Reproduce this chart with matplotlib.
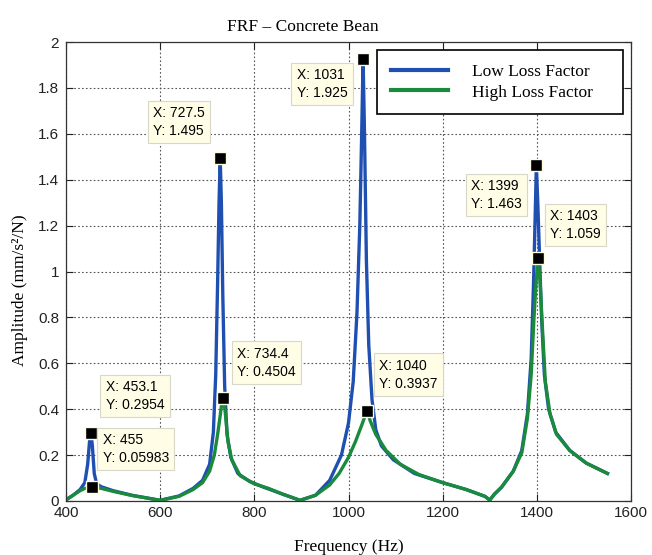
import numpy as np
import matplotlib
matplotlib.use("Agg")
import matplotlib.pyplot as plt
from matplotlib.ticker import FuncFormatter

# 低损耗因子曲线
low_freq = [400, 415, 430, 440, 446, 450, 453.1, 456, 460, 465, 475, 500, 540, 600,
            640, 670, 690, 705, 713, 718, 722, 725, 727.5, 730, 733, 737, 742, 750,
            765, 790, 820, 860, 897, 930, 960, 985, 1000, 1010, 1018, 1024, 1028,
            1031, 1034, 1038, 1043, 1050, 1058, 1070, 1095, 1140, 1200, 1250, 1290,
            1300, 1310, 1325, 1350, 1368, 1380, 1388, 1393, 1396, 1399, 1402, 1406,
            1410, 1416, 1425, 1440, 1470, 1505, 1550]
low_amp = [0.005, 0.025, 0.05, 0.08, 0.16, 0.26, 0.2954, 0.24, 0.12, 0.075, 0.062, 0.045,
           0.025, 0.003, 0.022, 0.055, 0.09, 0.16, 0.3, 0.55, 0.95, 1.3, 1.495, 1.3, 0.9,
           0.5, 0.29, 0.19, 0.12, 0.085, 0.06, 0.03, 0.003, 0.025, 0.09, 0.2, 0.34, 0.52,
           0.82, 1.2, 1.6, 1.925, 1.6, 1.05, 0.68, 0.44, 0.31, 0.24, 0.18, 0.12, 0.08, 0.05,
           0.02, 0.004, 0.03, 0.06, 0.13, 0.22, 0.38, 0.62, 0.95, 1.2, 1.463, 1.3, 1.05,
           0.8, 0.55, 0.4, 0.3, 0.22, 0.165, 0.12]

# 高损耗因子曲线
high_freq = [400, 415, 430, 440, 448, 455, 462, 475, 500, 540, 600, 640, 670, 690, 705,
             715, 722, 728, 731, 734.4, 738, 744, 752, 770, 800, 830, 860, 897, 930, 960,
             980, 1000, 1015, 1028, 1035, 1040, 1046, 1058, 1080, 1110, 1150, 1200, 1250,
             1290, 1300, 1310, 1325, 1350, 1368, 1380, 1388, 1394, 1399, 1403, 1407, 1412,
             1418, 1428, 1442, 1470, 1505, 1550]
high_amp = [0.005, 0.025, 0.045, 0.055, 0.058, 0.05983, 0.058, 0.055, 0.042, 0.024, 0.003,
            0.02, 0.05, 0.08, 0.13, 0.2, 0.29, 0.38, 0.43, 0.4504, 0.39, 0.26, 0.18, 0.11,
            0.075, 0.055, 0.03, 0.003, 0.025, 0.07, 0.12, 0.19, 0.26, 0.33, 0.37, 0.3937,
            0.35, 0.29, 0.22, 0.16, 0.115, 0.08, 0.05, 0.02, 0.004, 0.03, 0.06, 0.13, 0.21,
            0.36, 0.55, 0.8, 0.97, 1.059, 0.95, 0.75, 0.52, 0.38, 0.29, 0.22, 0.165, 0.12]

# 数据提示 (x, y, 文本框偏移像素)
tip_x = [453.1, 455, 727.5, 734.4, 1031, 1040, 1399, 1403]
tip_y = [0.2954, 0.05983, 1.495, 0.4504, 1.925, 0.3937, 1.463, 1.059]
tip_dx = [44, 44, -41, 43, -41, 41, -40, 37]
tip_dy = [37, 38, 36, 35, -25, 36, -30, 33]

x_ticks = [400, 600, 800, 1000, 1200, 1400, 1600]
y_ticks = [0, 0.2, 0.4, 0.6, 0.8, 1.0, 1.2, 1.4, 1.6, 1.8, 2.0]

SERIF = "Liberation Serif"
SANS = "Liberation Sans"

fig = plt.figure(figsize=(6.52, 5.55), dpi=100)
ax = fig.add_axes([66 / 652, 54 / 555, 565 / 652, 459 / 555])

ax.plot(low_freq, low_amp, color="#1f4fb0", lw=2.4, label="Low Loss Factor")
ax.plot(high_freq, high_amp, color="#1a8a3c", lw=2.4, label="High Loss Factor")

ax.set_xlim(400, 1600)
ax.set_ylim(0, 2)
ax.set_xticks(x_ticks)
ax.set_yticks(y_ticks)
ax.yaxis.set_major_formatter(FuncFormatter(lambda v, p: "%g" % round(v, 1)))
ax.tick_params(direction="in", top=True, right=True, length=5, width=0.8,
               labelsize=11, colors="#222222")
ax.tick_params(axis="y", pad=5)
for lab in ax.get_xticklabels() + ax.get_yticklabels():
    lab.set_fontfamily(SANS)
ax.grid(True, linestyle=(0, (1.5, 2)), color="#555555", linewidth=0.8)
for sp in ax.spines.values():
    sp.set_color("#333333")
    sp.set_linewidth(0.9)

ax.set_title("FRF \u2013 Concrete Bean", fontfamily=SERIF, fontsize=12.5, x=0.42, pad=8)
ax.set_xlabel("Frequency (Hz)", fontfamily=SERIF, fontsize=12.5)
ax.xaxis.set_label_coords(0.5, -0.082)
ax.set_ylabel("Amplitude (mm/s\u00b2/N)", fontfamily=SERIF, fontsize=12.5)
ax.yaxis.set_label_coords(-0.068, 0.46)

# 数据提示
for x, y, dx, dy in zip(tip_x, tip_y, tip_dx, tip_dy):
    ax.plot(x, y, marker="s", ms=8.5, color="black", mec="#fffbe0", mew=1, zorder=5)
    ax.annotate("X: %g\nY: %g" % (x, y), xy=(x, y), xytext=(dx, dy),
                textcoords="offset pixels", ha="center", va="center",
                multialignment="left",
                fontfamily=SANS, fontsize=10, linespacing=1.35, zorder=6,
                bbox=dict(boxstyle="square,pad=0.38", fc="#fffde6", ec="#d8d8c8", lw=0.8))

leg = ax.legend(loc="upper left", bbox_to_anchor=(0.5504, 0.5, 0.4354, 0.4826),
                mode="expand", borderaxespad=0,
                prop={"family": SERIF, "size": 12.5}, handlelength=3.3,
                handletextpad=1.4, borderpad=0.8, labelspacing=0.25,
                fancybox=False, framealpha=1, edgecolor="black")
leg.get_frame().set_linewidth(1.2)
for h in leg.get_lines():
    h.set_linewidth(3)

plt.savefig("out.png", dpi=100)
